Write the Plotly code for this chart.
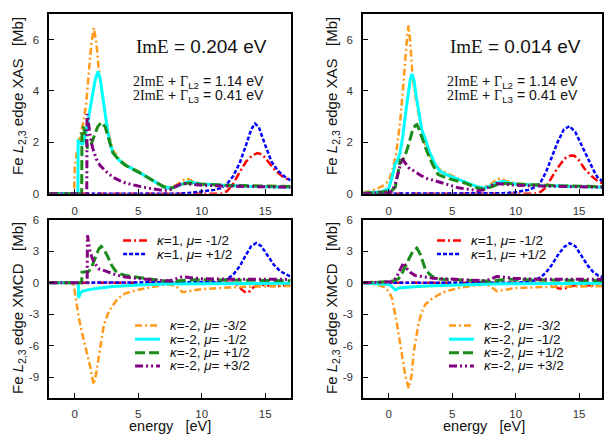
import plotly.graph_objects as go

W, H = 604, 441

# ---------------- data (energy in eV, cross section in Mb) ----------------
# Panel A : XAS, ImE = 0.204 eV
A_RED_E = [-2, 11.5, 12.0, 12.5, 13.0, 13.5, 14.0, 14.4, 14.8, 15.3, 15.8, 16.3, 17]
A_RED_Y = [0, 0, 0.1, 0.4, 0.85, 1.25, 1.5, 1.58, 1.52, 1.2, 0.9, 0.7, 0.5]
A_BLUE_E = [-2, 8, 9, 10, 11, 11.5, 12, 12.5, 13, 13.5, 13.9, 14.2, 14.5, 15, 15.5, 16, 16.5, 17]
A_BLUE_Y = [0, 0, 0.03, 0.08, 0.15, 0.22, 0.38, 0.7, 1.2, 1.9, 2.5, 2.73, 2.6, 1.9, 1.25, 0.9, 0.68, 0.52]
A_ORANGE_E = [-2, -0.05, 0.0, 0.15, 0.4, 0.7, 0.9, 1.1, 1.3, 1.5, 1.7, 1.9, 2.2, 2.6, 3.0, 3.5, 4, 5, 6, 7, 7.5, 8, 8.5, 8.8, 9.2, 10, 11, 12, 13, 14, 15, 16, 17]
A_ORANGE_Y = [0, 0, 1.0, 1.6, 2.2, 2.8, 3.5, 4.6, 5.8, 6.45, 5.9, 4.8, 3.7, 2.5, 1.7, 1.35, 1.15, 0.88, 0.57, 0.3, 0.25, 0.35, 0.5, 0.6, 0.5, 0.4, 0.35, 0.32, 0.3, 0.28, 0.27, 0.27, 0.28]
A_CYAN_E = [-2, 0.25, 0.27, 0.45, 0.6, 0.8, 1.0, 1.2, 1.4, 1.6, 1.83, 2.0, 2.2, 2.4, 2.6, 2.8, 3.0, 3.5, 4, 5, 6, 7, 7.5, 8, 8.5, 9, 9.5, 10, 12, 14, 17]
A_CYAN_Y = [0, 0, 2.05, 2.0, 1.9, 2.2, 2.7, 3.3, 3.9, 4.4, 4.76, 4.5, 3.8, 3.0, 2.4, 1.95, 1.6, 1.3, 1.12, 0.85, 0.55, 0.27, 0.22, 0.28, 0.38, 0.47, 0.42, 0.38, 0.32, 0.28, 0.25]
A_GREEN_E = [-2, 0.55, 0.57, 0.7, 0.85, 1.0, 1.2, 1.5, 1.8, 2.1, 2.4, 2.7, 3.0, 3.5, 4, 5, 6, 7, 7.5, 8, 8.5, 9, 9.5, 10, 12, 14, 17]
A_GREEN_Y = [0, 0, 2.5, 2.6, 2.2, 1.8, 1.8, 2.2, 2.6, 2.78, 2.6, 2.1, 1.6, 1.3, 1.1, 0.85, 0.55, 0.27, 0.2, 0.28, 0.38, 0.42, 0.4, 0.37, 0.33, 0.3, 0.28]
A_PURPLE_E = [-2, 0.95, 0.97, 1.05, 1.2, 1.4, 1.7, 2.0, 2.5, 3.0, 3.5, 4, 5, 6, 7, 7.5, 8, 8.5, 9, 10, 12, 14, 17]
A_PURPLE_Y = [0, 0, 3.1, 2.9, 2.3, 1.8, 1.35, 1.1, 0.85, 0.65, 0.52, 0.42, 0.3, 0.2, 0.13, 0.15, 0.3, 0.4, 0.38, 0.33, 0.3, 0.27, 0.25]

# Panel B : XAS, ImE = 0.014 eV
B_RED_E = [-2, 11.5, 12.0, 12.4, 12.8, 13.3, 13.86, 14.3, 14.6, 15.0, 15.4, 16.0, 16.5, 17]
B_RED_Y = [0, 0, 0.08, 0.25, 0.6, 1.0, 1.37, 1.48, 1.49, 1.3, 0.99, 0.68, 0.48, 0.38]
B_BLUE_E = [-2, 8, 9, 10, 11, 11.5, 12.0, 12.4, 12.8, 13.3, 13.8, 14.25, 14.7, 15.2, 15.7, 16.1, 16.5, 17]
B_BLUE_Y = [0, 0, 0.02, 0.06, 0.15, 0.25, 0.48, 0.85, 1.37, 2.0, 2.5, 2.63, 2.4, 1.85, 1.37, 0.95, 0.6, 0.45]
B_ORANGE_E = [-2, -1.5, -1, -0.5, 0, 0.3, 0.6, 0.9, 1.1, 1.3, 1.45, 1.57, 1.7, 1.85, 2.0, 2.35, 2.7, 3.0, 3.5, 4, 5, 6, 7, 7.5, 8, 8.5, 8.8, 9.2, 10, 12, 14, 17]
B_ORANGE_Y = [0.05, 0.1, 0.18, 0.3, 0.5, 0.9, 1.6, 2.8, 3.9, 5.2, 6.1, 6.55, 5.9, 4.8, 4.1, 3.1, 2.2, 1.7, 1.25, 0.95, 0.7, 0.45, 0.27, 0.25, 0.35, 0.55, 0.6, 0.5, 0.4, 0.33, 0.3, 0.28]
B_CYAN_E = [-2, -1, -0.5, 0, 0.3, 0.5, 0.7, 0.9, 1.1, 1.3, 1.5, 1.7, 1.83, 2.0, 2.2, 2.4, 2.6, 2.9, 3.2, 3.6, 4, 4.5, 5, 6, 7, 7.5, 8, 8.5, 9, 9.5, 10, 12, 14, 17]
B_CYAN_Y = [0.02, 0.05, 0.08, 0.2, 0.7, 1.15, 1.3, 1.6, 2.2, 3.0, 3.8, 4.45, 4.66, 4.4, 3.7, 3.0, 2.5, 2.1, 1.65, 1.2, 0.9, 0.75, 0.65, 0.48, 0.27, 0.22, 0.3, 0.42, 0.48, 0.42, 0.38, 0.32, 0.28, 0.25]
B_GREEN_E = [-2, -1, 0, 0.3, 0.52, 0.7, 0.92, 1.1, 1.3, 1.5, 1.7, 1.9, 2.1, 2.22, 2.4, 2.6, 2.9, 3.14, 3.5, 3.9, 4.5, 5, 6, 7, 7.5, 8, 8.5, 9, 9.5, 10, 12, 14, 17]
B_GREEN_Y = [0.02, 0.04, 0.1, 0.15, 0.25, 0.7, 1.3, 1.3, 1.5, 1.8, 2.2, 2.5, 2.66, 2.69, 2.5, 2.2, 1.8, 1.49, 1.1, 0.75, 0.62, 0.55, 0.42, 0.22, 0.18, 0.25, 0.35, 0.4, 0.4, 0.37, 0.33, 0.3, 0.28]
B_PURPLE_E = [-2, -1, 0, 0.26, 0.5, 0.8, 1.05, 1.3, 1.6, 2.09, 2.5, 3.0, 3.92, 4.5, 5.49, 6.5, 7, 7.5, 8, 8.5, 9, 10, 12, 14, 17]
B_PURPLE_Y = [0.01, 0.02, 0.05, 0.1, 0.35, 0.9, 1.37, 1.2, 1.0, 0.86, 0.72, 0.6, 0.48, 0.38, 0.23, 0.14, 0.12, 0.15, 0.3, 0.4, 0.38, 0.33, 0.3, 0.27, 0.25]

# Panel C : XMCD, ImE = 0.204 eV
C_RED_E = [-2, 12.5, 12.9, 13.2, 13.5, 13.8, 14.1, 14.5, 15, 15.5, 16, 17]
C_RED_Y = [0, 0, -0.25, -0.7, -0.95, -0.8, -0.4, -0.2, -0.2, -0.3, -0.3, -0.2]
C_BLUE_E = [-2, 10, 11, 11.5, 12, 12.5, 13, 13.5, 13.9, 14.3, 14.7, 15.2, 15.7, 16.2, 16.7, 17]
C_BLUE_Y = [0, 0.02, 0.08, 0.15, 0.35, 0.8, 1.6, 2.7, 3.5, 3.8, 3.5, 2.6, 1.7, 1.1, 0.75, 0.6]
C_ORANGE_E = [-2, -0.1, 0.0, 0.3, 0.6, 0.9, 1.2, 1.49, 1.7, 1.9, 2.1, 2.3, 2.6, 2.9, 3.4, 4, 5, 6, 7, 7.5, 8, 8.5, 9, 10, 12, 14, 17]
C_ORANGE_Y = [0, 0, -0.8, -3.2, -4.9, -6.3, -7.9, -9.7, -8.6, -7.0, -5.3, -4.0, -3.0, -2.3, -1.5, -1.0, -0.65, -0.4, -0.2, -0.15, -0.35, -0.9, -0.8, -0.6, -0.45, -0.35, -0.3]
C_CYAN_E = [-2, 0.28, 0.3, 0.45, 0.6, 0.9, 1.3, 2, 3, 4, 5, 7, 10, 13, 17]
C_CYAN_Y = [0, 0, -1.45, -1.0, -0.8, -0.7, -0.6, -0.5, -0.35, -0.28, -0.2, -0.12, -0.08, -0.05, -0.05]
C_GREEN_E = [-2, 0.55, 0.57, 0.8, 1.1, 1.3, 1.5, 1.7, 1.9, 2.09, 2.3, 2.6, 2.9, 3.2, 3.6, 4, 5, 6, 7, 7.5, 8, 9, 9.5, 10, 12, 14, 17]
C_GREEN_Y = [0, 0, 1.0, 1.05, 1.1, 1.4, 2.0, 2.7, 3.25, 3.47, 3.2, 2.5, 1.7, 1.15, 0.85, 0.7, 0.5, 0.35, 0.2, 0.15, 0.18, 0.28, 0.3, 0.3, 0.28, 0.25, 0.2]
C_PURPLE_E = [-2, 0.98, 1.0, 1.1, 1.23, 1.5, 1.88, 2.5, 3.27, 4, 5, 6, 7, 7.5, 8, 8.5, 9, 10, 12, 14, 17]
C_PURPLE_Y = [0, 0, 4.55, 3.6, 2.86, 2.0, 1.35, 1.1, 0.75, 0.55, 0.4, 0.3, 0.2, 0.2, 0.4, 0.6, 0.5, 0.4, 0.35, 0.33, 0.33]

# Panel D : XMCD, ImE = 0.014 eV
D_RED_E = [-2, 12.5, 13.0, 13.4, 13.8, 14.2, 14.6, 15.2, 16, 17]
D_RED_Y = [0, 0, -0.25, -0.55, -0.55, -0.4, -0.25, -0.2, -0.25, -0.2]
D_BLUE_E = [-2, 10, 11, 11.5, 12.0, 12.4, 12.8, 13.3, 13.8, 14.25, 14.7, 15.2, 15.7, 16.1, 16.5, 17]
D_BLUE_Y = [0, 0.02, 0.1, 0.25, 0.55, 1.0, 1.62, 2.6, 3.4, 3.79, 3.5, 2.6, 1.62, 1.05, 0.7, 0.5]
D_ORANGE_E = [-2, -1, -0.4, 0, 0.26, 0.45, 0.65, 0.85, 1.05, 1.3, 1.57, 1.8, 1.96, 2.15, 2.35, 2.6, 2.88, 3.3, 3.92, 4.5, 5.5, 6.5, 7.5, 8, 8.5, 9, 10, 12, 14, 17]
D_ORANGE_Y = [-0.05, -0.15, -0.37, -0.8, -1.45, -2.5, -3.9, -5.4, -7.0, -8.8, -10.07, -8.9, -6.7, -5.2, -3.9, -2.8, -2.07, -1.6, -1.14, -0.8, -0.5, -0.3, -0.15, -0.3, -0.8, -0.7, -0.5, -0.4, -0.35, -0.3]
D_CYAN_E = [-2, -1, 0, 0.3, 0.52, 0.8, 1.2, 1.6, 2, 3, 4, 5, 6, 8, 10, 13, 17]
D_CYAN_Y = [-0.02, -0.05, -0.15, -0.4, -0.68, -0.5, -0.45, -0.42, -0.38, -0.3, -0.25, -0.2, -0.15, -0.1, -0.08, -0.05, -0.05]
D_GREEN_E = [-2, -1, 0, 0.4, 0.78, 1.05, 1.31, 1.6, 1.9, 2.22, 2.5, 2.88, 3.2, 3.66, 4.2, 5, 6, 7, 7.5, 8, 9, 9.5, 10, 12, 14, 17]
D_GREEN_Y = [0.02, 0.04, 0.1, 0.2, 0.4, 0.9, 1.62, 2.3, 3.0, 3.32, 2.7, 1.32, 0.85, 0.4, 0.35, 0.3, 0.22, 0.15, 0.12, 0.15, 0.3, 0.35, 0.32, 0.28, 0.25, 0.2]
D_PURPLE_E = [-2, -1, 0, 0.26, 0.6, 0.9, 1.18, 1.4, 1.7, 2.09, 2.8, 3.5, 4.2, 5, 6, 7, 7.5, 8, 8.5, 9, 10, 12, 14, 17]
D_PURPLE_Y = [0.01, 0.02, 0.05, 0.1, 0.5, 1.3, 1.94, 1.4, 1.0, 0.7, 0.55, 0.45, 0.4, 0.35, 0.28, 0.2, 0.2, 0.35, 0.6, 0.55, 0.42, 0.35, 0.33, 0.33]

SERIES_NAMES = ["red", "blue", "orange", "cyan", "green", "purple"]
LEGEND_TEXT = [
    "<i>κ</i>=1, <i>μ</i>= -1/2",
    "<i>κ</i>=1, <i>μ</i>= +1/2",
    "<i>κ</i>=-2, <i>μ</i>= -3/2",
    "<i>κ</i>=-2, <i>μ</i>= -1/2",
    "<i>κ</i>=-2, <i>μ</i>= +1/2",
    "<i>κ</i>=-2, <i>μ</i>= +3/2",
]
IME_LABELS = ["0.204", "0.014"]
GAMMA_L2 = "1.14"
GAMMA_L3 = "0.41"
XAS_TICKS = [0, 2, 4, 6]
XMCD_TICKS = [6, 3, 0, -3, -6, -9]
E_TICKS = [0, 5, 10, 15]

PANELS = [
    ("x", "y", [(A_RED_E, A_RED_Y), (A_BLUE_E, A_BLUE_Y), (A_ORANGE_E, A_ORANGE_Y),
                (A_CYAN_E, A_CYAN_Y), (A_GREEN_E, A_GREEN_Y), (A_PURPLE_E, A_PURPLE_Y)]),
    ("x2", "y2", [(B_RED_E, B_RED_Y), (B_BLUE_E, B_BLUE_Y), (B_ORANGE_E, B_ORANGE_Y),
                  (B_CYAN_E, B_CYAN_Y), (B_GREEN_E, B_GREEN_Y), (B_PURPLE_E, B_PURPLE_Y)]),
    ("x3", "y3", [(C_RED_E, C_RED_Y), (C_BLUE_E, C_BLUE_Y), (C_ORANGE_E, C_ORANGE_Y),
                  (C_CYAN_E, C_CYAN_Y), (C_GREEN_E, C_GREEN_Y), (C_PURPLE_E, C_PURPLE_Y)]),
    ("x4", "y4", [(D_RED_E, D_RED_Y), (D_BLUE_E, D_BLUE_Y), (D_ORANGE_E, D_ORANGE_Y),
                  (D_CYAN_E, D_CYAN_Y), (D_GREEN_E, D_GREEN_Y), (D_PURPLE_E, D_PURPLE_Y)]),
]

# ---------------- styles ----------------
STYLE = {
    "red":    dict(color="#ff0000", width=2.5, dash="8px,3px,2px,3px"),
    "blue":   dict(color="#0000ff", width=2.5, dash="4px,2px"),
    "orange": dict(color="#ff9a1a", width=2.5, dash="7px,3px,2px,3px"),
    "cyan":   dict(color="#00ffff", width=3, dash="solid"),
    "green":  dict(color="#1a8c1a", width=3, dash="10px,4px"),
    "purple": dict(color="#800080", width=3, dash="8px,3px,2px,3px,2px,3px"),
}

fig = go.Figure()
for xa, ya, curves in PANELS:
    for name, (ex, ey) in zip(SERIES_NAMES, curves):
        fig.add_trace(go.Scatter(x=ex, y=ey, xaxis=xa, yaxis=ya, mode="lines",
                                 line=STYLE[name], showlegend=False, hoverinfo="skip"))

SANS = "Liberation Sans, Arial, sans-serif"
SERIF = "Liberation Serif, Times New Roman, serif"
TXT = "#111"

def px(v):
    return v / W

def py(v):
    return 1 - v / H

LEFT = (49.5, 291.5)
RIGHT = (364.5, 604.0)
TOP = (8, 193)
BOT = (220, 403)
PX_PER_EV = (LEFT[1] - LEFT[0]) / 19.0

axis_common = dict(showline=True, linecolor="black", linewidth=2, mirror=True,
                   ticks="inside", ticklen=5, tickwidth=1.2, tickcolor="black",
                   showgrid=False, zeroline=False,
                   tickfont=dict(family=SANS, size=11.5, color="#333"))

right_max = -2 + (RIGHT[1] - RIGHT[0]) / PX_PER_EV

layout = dict(width=W, height=H, margin=dict(l=0, r=0, t=0, b=0),
              paper_bgcolor="white", plot_bgcolor="white", showlegend=False)

for i, (xd, yd, xr, yr, yt, xstand) in enumerate([
        (LEFT, TOP, [-2, 17], [0, 7], XAS_TICKS, 5),
        (RIGHT, TOP, [-2, right_max], [0, 7], XAS_TICKS, 5),
        (LEFT, BOT, [-2, 17], [-11, 6], XMCD_TICKS, 4),
        (RIGHT, BOT, [-2, right_max], [-11, 6], XMCD_TICKS, 4)]):
    sfx = "" if i == 0 else str(i + 1)
    layout["xaxis" + sfx] = dict(axis_common, domain=[px(xd[0]), px(xd[1])], range=xr,
                                 anchor="y" + sfx, tickvals=E_TICKS,
                                 ticktext=[str(t) for t in E_TICKS], ticklabelstandoff=xstand)
    layout["yaxis" + sfx] = dict(axis_common, domain=[py(yd[1]), py(yd[0])], range=yr,
                                 anchor="x" + sfx, tickvals=yt,
                                 ticktext=[str(t) for t in yt], ticklabelstandoff=6)

fig.update_layout(**layout)

ann = []
shapes = []
NB = "\u00a0"

def note(text, x, y, size, xanchor="center", yanchor="middle", angle=0, family=SANS):
    ann.append(dict(text=text, x=px(x), y=py(y), xref="paper", yref="paper",
                    xanchor=xanchor, yanchor=yanchor, textangle=angle, showarrow=False,
                    font=dict(family=family, size=size, color=TXT)))

for xd, ime in zip([LEFT, RIGHT], IME_LABELS):
    x0 = xd[0]
    cx = x0 + (LEFT[1] - LEFT[0]) / 2
    note(f"Fe <i>L</i><sub>2,3</sub> edge XAS{NB*3}[Mb]", x0 - 31, 92, 15, angle=-90)
    note(f"Fe <i>L</i><sub>2,3</sub> edge XMCD{NB*3}[Mb]", x0 - 31, 310, 15, angle=-90)
    note(f"energy{NB*3}[eV]", cx, 442, 14.5, yanchor="bottom")
    note(f'<span style="font-family:{SERIF}">ImE</span> = {ime} eV', x0 + 153, 42, 19)
    note(f'<span style="font-family:{SERIF}">2ImE</span> + '
         f'<span style="font-family:{SERIF}">Γ</span><sub>L2</sub> = {GAMMA_L2} eV', x0 + 150, 78, 14)
    note(f'<span style="font-family:{SERIF}">2ImE</span> + '
         f'<span style="font-family:{SERIF}">Γ</span><sub>L3</sub> = {GAMMA_L3} eV', x0 + 150, 93, 14)
    rows = [(74, 98, 106, 241), (74, 98, 106, 255),
            (86, 111, 119.5, 328.5), (86, 111, 119.5, 342.5), (86, 111, 119.5, 356.5), (86, 111, 119.5, 370)]
    for name, label, (s0, s1, tx, ry) in zip(SERIES_NAMES, LEGEND_TEXT, rows):
        shapes.append(dict(type="line", xref="paper", yref="paper",
                           x0=px(x0 + s0), x1=px(x0 + s1), y0=py(ry), y1=py(ry),
                           line=STYLE[name]))
        note(label, x0 + tx, ry, 13.5, xanchor="left")

fig.update_layout(annotations=ann, shapes=shapes)
fig.write_html("out.html")
